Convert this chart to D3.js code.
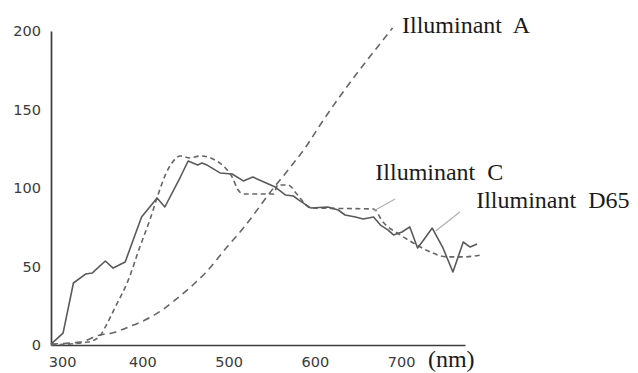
<!DOCTYPE html>
<html>
<head>
<meta charset="utf-8">
<script src="https://cdn.jsdelivr.net/npm/d3@7/dist/d3.min.js"></script>
<style>
    body { margin: 0; background: #fff; }
    svg { display: block; }
</style>
</head>
<body>
<div id="chart"></div>
<script>
// Illuminant D65 (solid line)
const wavelengthD65 = [294, 308, 320, 334, 342, 357, 366, 380, 399, 417, 426, 444, 453, 464, 469,
    475, 490, 504, 517, 528, 554, 566, 575, 581, 595, 615, 627, 635, 647, 656, 668, 676, 685, 691,
    701, 710, 719, 726, 736, 748, 760, 772, 780, 788];
const valueD65 = [0.6, 7.6, 39.5, 45.2, 45.9, 53.5, 49.0, 52.9, 81.5, 93.6, 87.9, 107.0, 117.2, 114.6, 115.9,
    114.6, 109.6, 108.9, 104.5, 107.0, 100.6, 95.5, 94.9, 92.4, 87.3, 87.9, 86.0, 82.8, 81.5, 80.3, 81.5, 76.4, 73.2, 70.1,
    72.0, 75.2, 61.8, 66.9, 74.5, 62.4, 46.5, 65.6, 62.4, 64.3];

// Illuminant C (short dashes)
const wavelengthC = [294, 337, 351, 357, 368, 383, 397, 409, 418, 426, 435, 444, 455, 467, 476, 484, 494, 504,
    511, 517, 552, 557, 569, 579, 591, 595, 668, 679, 699, 714, 734, 753, 772, 792];
const valueC = [0, 1.9, 6.0, 11.5, 23.6, 40.5, 62.4, 80.3, 95.5, 107.6, 116.6, 120.4, 119.1, 120.4, 119.7, 117.8, 114.0, 107.0,
    98.7, 96.2, 96.2, 101.9, 101.9, 96.2, 88.5, 87.3, 86.6, 78.3, 70.1, 65.0, 59.2, 56.1, 56.1, 57.3];

// Illuminant A (long dashes)
const wavelengthA = [294, 328, 351, 365, 384, 403, 423, 438, 461, 473, 498, 517, 552, 569, 591, 606, 690];
const valueA = [0.6, 1.9, 6.4, 7.6, 11.5, 15.9, 22.3, 28.7, 39.5, 45.9, 62.4, 74.5, 100.0, 111.5, 127.4, 140.1, 201.9];

// axis ticks
const xTicks = [300, 400, 500, 600, 700];
const yTicks = [0, 50, 100, 150, 200];

// labels and their leader lines (in data units)
const labelNames = ["Illuminant  A", "Illuminant  C", "Illuminant  D65", "(nm)"];
const labelWavelengths = [701, 670, 787, 731];
const labelValues = [198.7, 105.1, 87.3, -14];
const leaderC = [[668, 85.4], [693, 93.0]];
const leaderD65 = [[740, 72.6], [768, 84.7]];

const width = 638, height = 373;

const svg = d3.select("#chart").append("svg")
    .attr("width", width)
    .attr("height", height)
    .style("background", "#fff");

// scales
const x = d3.scaleLinear().domain([294, 774]).range([51, 465]);
const y = d3.scaleLinear().domain([0, 200]).range([345, 31]);

const zip = (xs, ys) => xs.map((d, i) => [d, ys[i]]);

// axes
const xAxis = svg.append("g")
    .attr("transform", "translate(0," + y(0) + ")")
    .call(d3.axisBottom(x).tickValues(xTicks).tickSize(0).tickPadding(12).tickSizeOuter(0));

const yAxis = svg.append("g")
    .attr("transform", "translate(" + x(294) + ",0)")
    .call(d3.axisLeft(y).tickValues(yTicks).tickSize(0).tickPadding(10).tickSizeOuter(0));

[xAxis, yAxis].forEach(g => {
    g.select(".domain").attr("stroke", "#3c3c3c").attr("stroke-width", 1.7);
    g.selectAll("text")
        .style("font-family", "'DejaVu Sans', Verdana, sans-serif")
        .style("font-size", "14.5px")
        .style("fill", "#3a3a3a");
});
// the first x label sits a bit right of the corner
xAxis.selectAll(".tick text").filter(d => d === 300).attr("dx", "6");

// lines
const line = d3.line().x(d => x(d[0])).y(d => y(d[1]));
const smooth = d3.line().x(d => x(d[0])).y(d => y(d[1])).curve(d3.curveMonotoneX);

svg.append("path")
    .datum(zip(wavelengthA, valueA))
    .attr("d", smooth)
    .attr("fill", "none")
    .attr("stroke", "#666")
    .attr("stroke-width", 1.6)
    .attr("stroke-dasharray", "7,5");

svg.append("path")
    .datum(zip(wavelengthC, valueC))
    .attr("d", smooth)
    .attr("fill", "none")
    .attr("stroke", "#666")
    .attr("stroke-width", 1.6)
    .attr("stroke-dasharray", "5,3.5");

svg.append("path")
    .datum(zip(wavelengthD65, valueD65))
    .attr("d", line)
    .attr("fill", "none")
    .attr("stroke", "#5a5a5a")
    .attr("stroke-width", 1.6)
    .attr("stroke-linejoin", "round");

// leader lines
[leaderC, leaderD65].forEach(seg => {
    svg.append("path")
        .datum(seg)
        .attr("d", line)
        .attr("fill", "none")
        .attr("stroke", "#b0b0b0")
        .attr("stroke-width", 1.2);
});

// labels
svg.selectAll(".label")
    .data(labelNames)
    .enter().append("text")
    .attr("class", "label")
    .attr("x", (d, i) => x(labelWavelengths[i]))
    .attr("y", (d, i) => y(labelValues[i]))
    .style("font-family", "'Liberation Serif', 'Times New Roman', serif")
    .style("font-size", "24px")
    .style("fill", "#1a1a1a")
    .style("white-space", "pre")
    .text(d => d);
</script>
</body>
</html>
